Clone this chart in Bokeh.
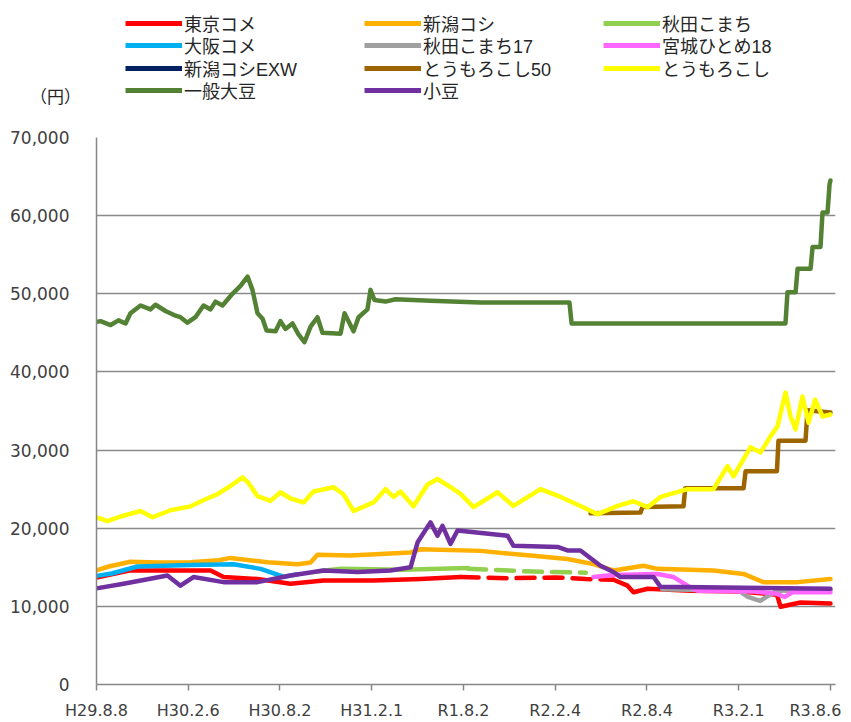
from bokeh.plotting import figure
from bokeh.layouts import column
from bokeh.models import Range1d, FixedTicker, NumeralTickFormatter, Legend, LegendItem, Label
from bokeh.embed import file_html
from bokeh.resources import INLINE

# x positions are months since H29.8.8
tick_months = [0, 6, 12, 18, 24, 30, 36, 42, 48]
tick_labels = ["H29.8.8", "H30.2.6", "H30.8.2", "H31.2.1", "R1.8.2", "R2.2.4", "R2.8.4", "R3.2.1",
               "R3.8.6\u2007"]
y_ticks = [0, 10000, 20000, 30000, 40000, 50000, 60000, 70000]
unit_label = "（円）"

# 東京コメ (solid / dashed / solid)
tokyo_x1 = [0, 2.22, 7.46, 8.31, 10.53, 12.69, 14.85, 18.12, 21.19, 23.81]
tokyo_v1 = [13700, 14600, 14600, 13750, 13500, 12900, 13300, 13300, 13500, 13750]
tokyo_x2 = [23.81, 27.0, 30.0, 32.0, 33.81]
tokyo_v2 = [13750, 13600, 13700, 13500, 13400]
tokyo_x3 = [33.81, 34.73, 35.12, 36.04, 38.85, 42.0, 44.5, 44.74, 46.04, 48.0]
tokyo_v3 = [13400, 12650, 11800, 12250, 12000, 11900, 11500, 9950, 10500, 10350]

# 新潟コシ
niigata_x = [0, 0.8, 2.22, 4.0, 6.15, 8.0, 8.76, 10.5, 11.18, 13.15, 14.0, 14.45, 16.61, 18.57,
             20.54, 21.19, 25.11, 28.38, 30.8, 32.5, 33.81, 35.78, 36.69, 40.35, 42.32, 43.62, 45.85, 48.0]
niigata_v = [14600, 15100, 15700, 15600, 15650, 15900, 16200, 15800, 15650, 15400, 15600, 16600, 16500, 16700,
             16900, 17300, 17100, 16500, 16050, 15400, 14600, 15200, 14800, 14600, 14150, 13100, 13100, 13500]

# 秋田こまち (solid / dashed)
akita_x1 = [14.5, 16.0, 20.0, 24.3]
akita_v1 = [14500, 14800, 14700, 14900]
akita_x2 = [24.3, 28.0, 32.0]
akita_v2 = [14800, 14500, 14300]

# 大阪コメ
osaka_x = [0, 1.0, 2.68, 6.15, 8.96, 10.73, 12.23, 13.15]
osaka_v = [13900, 14200, 15100, 15300, 15400, 14800, 13800, 14100]

# 秋田こまち17
akita17_x = [37.0, 42.0, 42.6, 43.4, 43.9, 44.5, 48.0]
akita17_v = [12200, 12000, 11200, 10700, 11300, 12000, 12100]

# 宮城ひとめ18
miyagi_x = [32.5, 33.81, 36.69, 37.74, 38.65, 39.31, 43.0, 44.5, 45.0, 45.5, 48.0]
miyagi_v = [13750, 14000, 14150, 13750, 12650, 12000, 11900, 11600, 11200, 11800, 11800]

# 新潟コシEXW (no visible data)
exw_x = []
exw_v = []

# とうもろこし50
corn50_x = [32.31, 35.58, 35.7, 38.39, 38.5, 42.32, 42.45, 44.5, 44.6, 46.37, 46.5, 48.0]
corn50_v = [21900, 22000, 22700, 22800, 25100, 25100, 27300, 27300, 31200, 31200, 35100, 34800]

# とうもろこし
corn_x = [0, 0.72, 1.57, 2.88, 3.66, 4.84, 6.15, 7.13, 7.91, 8.76, 9.55, 9.94, 10.53, 11.38, 12.03,
          12.69, 13.54, 14.19, 15.5, 16.15, 16.81, 18.12, 18.9, 19.42, 19.88, 20.73, 21.65, 22.3, 23.15,
          23.81, 24.66, 26.23, 27.27, 29.04, 30.35, 31.65, 32.77, 34.08, 35.12, 36.04, 36.89, 38.65,
          40.35, 41.27, 41.66, 42.77, 43.43, 44.08, 44.54, 45.06, 45.39, 45.72, 46.17, 46.57, 47.0, 47.48, 48.0]
corn_v = [21400, 20900, 21500, 22200, 21400, 22300, 22800, 23700, 24350, 25400, 26500, 25800, 24100, 23500, 24600,
          23800, 23300, 24700, 25250, 24350, 22200, 23300, 25000, 24000, 24700, 22800, 25600, 26300, 25250,
          24400, 22700, 24600, 22850, 25000, 24000, 22850, 21800, 22850, 23450, 22700, 24000, 25000,
          25000, 27950, 26650, 30350, 29700, 31750, 33050, 37350, 34300, 32650, 36850, 33500, 36450, 34300, 34550]

# 一般大豆
soy_x = [0, 0.26, 0.92, 1.44, 1.9, 2.22, 2.88, 3.53, 3.86, 4.51, 5.17, 5.49, 5.95, 6.47, 7.0, 7.46, 7.78,
         8.24, 8.89, 9.42, 9.88, 10.2, 10.53, 10.86, 11.12, 11.71, 12.03, 12.36, 12.82, 13.21, 13.6, 14.0,
         14.45, 14.78, 15.96, 16.22, 16.81, 17.14, 17.72, 17.92, 18.18, 18.9, 19.56, 21.84, 25.11, 30.93,
         31.07, 45.06, 45.19, 45.72, 45.85, 46.7, 46.83, 47.35, 47.48, 47.81, 47.94, 48.0]
soy_v = [46400, 46500, 46000, 46600, 46200, 47500, 48500, 48000, 48600, 47800, 47200, 47000, 46300, 47000, 48500,
         48000, 49000, 48500, 50000, 51000, 52200, 50500, 47500, 46800, 45300, 45200, 46500, 45500, 46200, 44800,
         43800, 45800, 47000, 45000, 44900, 47500, 45200, 47000, 48000, 50500, 49200, 49000, 49300, 49100, 48900,
         48900, 46200, 46200, 50200, 50200, 53200, 53200, 56000, 56000, 60400, 60400, 64000, 64500]

# 小豆
azuki_x = [0, 1.77, 4.64, 5.49, 6.34, 8.31, 10.53, 12.69, 14.85, 17.07, 19.23, 20.54, 21.0, 21.84, 22.3, 22.63,
           23.15, 23.61, 26.88, 27.27, 30.15, 30.8, 31.65, 32.96, 33.81, 34.27, 36.43, 36.89, 48.0]
azuki_v = [12300, 12900, 13950, 12650, 13750, 13100, 13100, 13950, 14600, 14400, 14600, 15000, 18200, 20750, 19050,
           20300, 18000, 19700, 19050, 17750, 17600, 17150, 17150, 15200, 14400, 13750, 13750, 12500, 12250]

series_colors = {
    "東京コメ": "#FF0000", "新潟コシ": "#FFB000", "秋田こまち": "#92D050",
    "大阪コメ": "#00B0F0", "秋田こまち17": "#A0A0A0", "宮城ひとめ18": "#FF66FF",
    "新潟コシEXW": "#002060", "とうもろこし50": "#9C6500", "とうもろこし": "#FFFF00",
    "一般大豆": "#548235", "小豆": "#7030A0",
}
legend_rows = [
    ["東京コメ", "新潟コシ", "秋田こまち"],
    ["大阪コメ", "秋田こまち17", "宮城ひとめ18"],
    ["新潟コシEXW", "とうもろこし50", "とうもろこし"],
    ["一般大豆", "小豆"],
]

W = 851
TOP_H = 110
MAIN_H = 722 - TOP_H
LW = 4.5
LEG_FONT = "Liberation Sans, Noto Sans CJK JP"

# ---------------- legend strip ----------------
top = figure(width=W, height=TOP_H, output_backend="svg", toolbar_location=None,
             x_range=Range1d(0, W), y_range=Range1d(TOP_H, 0),
             x_axis_type=None, y_axis_type=None, min_border=0)
top.frame_align = False
top.outline_line_color = None
top.grid.visible = False
top.background_fill_color = "white"
top.border_fill_color = "white"

# legend proxies: one NaN point each so the legend draws the swatch, nothing on the canvas
leg_renderers = {}
for name, col in series_colors.items():
    leg_renderers[name] = top.line([float("nan")], [float("nan")], line_color=col, line_width=5,
                                   line_cap="butt")

ROW_H = 22
for i, names in enumerate(legend_rows):
    lg = Legend(items=[LegendItem(label=n, renderers=[leg_renderers[n]]) for n in names],
                orientation="horizontal")
    lg.margin = 0
    lg.padding = 0
    lg.spacing = 0
    lg.glyph_width = 57
    lg.glyph_height = ROW_H
    lg.label_height = ROW_H
    lg.label_width = 180
    lg.label_standoff = 2
    lg.border_line_color = None
    lg.background_fill_alpha = 0
    lg.label_text_font = LEG_FONT
    lg.label_text_font_size = "18px"
    lg.label_text_color = "#262626"
    center = 25 + 22.3 * i
    lg.location = (125, TOP_H - (center + ROW_H / 2))
    top.add_layout(lg, "center")

top.add_layout(Label(x=55, y=97, text=unit_label, text_font=LEG_FONT, text_font_size="17px",
                     text_color="#262626", text_align="center", text_baseline="middle"))

# ---------------- main chart ----------------
p = figure(width=W, height=MAIN_H, output_backend="svg", toolbar_location=None,
           x_range=Range1d(0, 48.33), y_range=Range1d(0, 70000),
           min_border_left=96, min_border_right=16, min_border_top=27, min_border_bottom=36)
p.frame_align = False
p.outline_line_color = None
p.background_fill_color = "white"
p.border_fill_color = "white"

p.xgrid.grid_line_color = None
p.ygrid.grid_line_color = "#8a8a8a"
p.ygrid.grid_line_width = 1.3
p.ygrid.ticker = FixedTicker(ticks=y_ticks)

ya = p.yaxis[0]
ya.ticker = FixedTicker(ticks=y_ticks)
ya.formatter = NumeralTickFormatter(format="0,0")
ya.major_tick_line_color = None
ya.minor_tick_line_color = None
ya.axis_line_color = "#868686"
ya.axis_line_width = 1.5
ya.major_label_text_font = "DejaVu Sans"
ya.major_label_text_font_size = "17px"
ya.major_label_text_color = "#404040"
ya.major_label_standoff = 21

xa = p.xaxis[0]
xa.ticker = FixedTicker(ticks=tick_months)
xa.major_label_overrides = {m: l for m, l in zip(tick_months, tick_labels)}
xa.minor_tick_line_color = None
xa.major_tick_in = 0
xa.major_tick_out = 6
xa.major_tick_line_color = "#868686"
xa.major_tick_line_width = 1.5
xa.axis_line_color = "#868686"
xa.axis_line_width = 1.5
xa.major_label_text_font = "DejaVu Sans"
xa.major_label_text_font_size = "16px"
xa.major_label_text_color = "#404040"
xa.major_label_standoff = 10


def ln(x, v, name, dash="solid"):
    return p.line(x, v, line_color=series_colors[name], line_width=LW, line_dash=dash,
                  line_join="round", line_cap="round")


ln(tokyo_x1, tokyo_v1, "東京コメ")
ln(tokyo_x2, tokyo_v2, "東京コメ", "18 10")
ln(tokyo_x3, tokyo_v3, "東京コメ")
ln(niigata_x, niigata_v, "新潟コシ")
ln(akita_x1, akita_v1, "秋田こまち")
ln(akita_x2, akita_v2, "秋田こまち", "18 10")
ln(osaka_x, osaka_v, "大阪コメ")
ln(akita17_x, akita17_v, "秋田こまち17")
ln(miyagi_x, miyagi_v, "宮城ひとめ18")
ln(exw_x, exw_v, "新潟コシEXW")
ln(corn50_x, corn50_v, "とうもろこし50")
ln(corn_x, corn_v, "とうもろこし")
ln(soy_x, soy_v, "一般大豆")
ln(azuki_x, azuki_v, "小豆")

layout = column(top, p, spacing=0)
open("out.html", "w").write(file_html(layout, INLINE))
